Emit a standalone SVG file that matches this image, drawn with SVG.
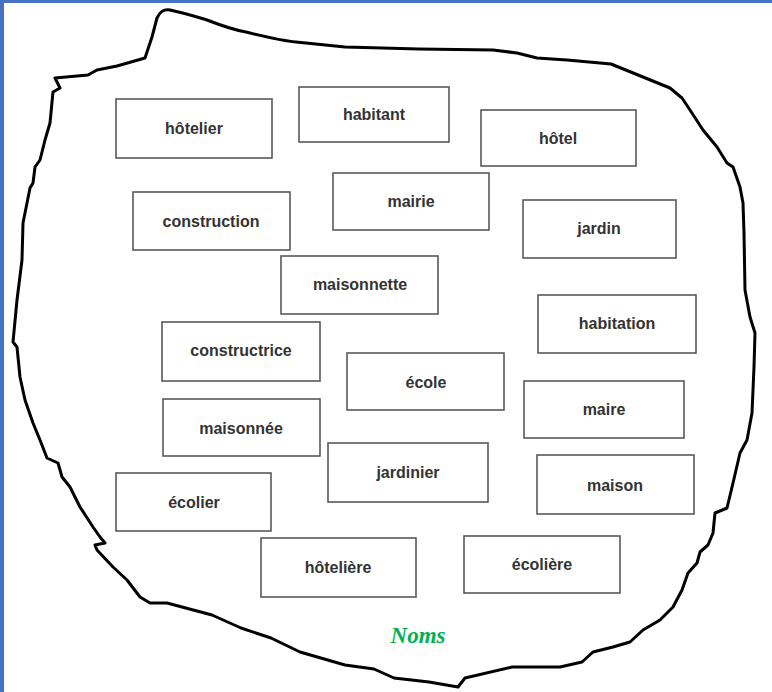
<svg xmlns="http://www.w3.org/2000/svg" width="772" height="692" viewBox="0 0 772 692">
<style>
.b rect{fill:#fff;stroke:#595959;stroke-width:1.6}
.b text{font-family:"Liberation Sans",Arial,sans-serif;font-weight:bold;font-size:16px;fill:#333;text-anchor:middle}
.outline{fill:#fff;stroke:#000;stroke-width:3;stroke-linejoin:round;stroke-linecap:round}
</style>
<rect x="0" y="0" width="772" height="692" fill="#fff"/>
<rect x="0" y="0" width="772" height="3" fill="#4472C4"/>
<rect x="0" y="0" width="4" height="692" fill="#4472C4"/>
<g id="outline">
<path class="outline" d="M55,78 L88,75 L97,70 L117,66 L145,58 L152,37 L157,18 C160,12 163,9 170,10 C185,13 200,18 207,20 C225,27 240,31 246,32 C270,38 285,41 296,42 L345,47 L419,49 L493,50 L517,53 L537,58 L567,60 L611,64 L643,77 L670,88 L682,98 L690,110 L703,130 L717,147 L727,163 L733,167 L740,187 L743,203 L744,233 L745,290 L750,317 L755,333 L754,367 L752,413 L747,440 L740,453 L733,483 L727,508 L715,513 L713,533 L708,545 L700,552 L697,563 L688,573 L682,590 L673,607 L660,620 L643,630 L630,642 L613,647 L593,652 L582,662 L560,667 L542,667 L512,667 L465,678 L458,687 L429,682 L394,678 L374,669 L345,665 L300,652 L271,638 L241,628 L212,615 L167,603 L150,603 L140,597 L127,580 L113,567 L97,550 L95,545 L105,543 L100,537 L93,527 L80,507 L70,487 L62,477 L58,463 L47,458 L40,440 L33,423 L25,400 L20,377 L17,347 L13,342 L17,300 L22,260 L23,223 L30,188 L33,183 L35,167 L40,160 L45,140 L50,123 L53,92 L60,88 Z"/>
</g>
<g id="nodes" class="b">
<g id="n-hotelier"><rect x="116" y="99" width="156" height="59"/><text x="194" y="134">hôtelier</text></g>
<g id="n-habitant"><rect x="299" y="87" width="150" height="55"/><text x="374" y="120">habitant</text></g>
<g id="n-hotel"><rect x="481" y="110" width="155" height="56"/><text x="558" y="144">hôtel</text></g>
<g id="n-construction"><rect x="133" y="192" width="157" height="58"/><text x="211" y="227">construction</text></g>
<g id="n-mairie"><rect x="333" y="173" width="156" height="57"/><text x="411" y="207">mairie</text></g>
<g id="n-jardin"><rect x="523" y="200" width="153" height="58"/><text x="599" y="234">jardin</text></g>
<g id="n-maisonnette"><rect x="281" y="256" width="157" height="58"/><text x="360" y="290">maisonnette</text></g>
<g id="n-habitation"><rect x="538" y="295" width="158" height="58"/><text x="617" y="329">habitation</text></g>
<g id="n-constructrice"><rect x="162" y="322" width="158" height="59"/><text x="241" y="356">constructrice</text></g>
<g id="n-ecole"><rect x="347" y="353" width="157" height="57"/><text x="426" y="388">école</text></g>
<g id="n-maire"><rect x="524" y="381" width="160" height="57"/><text x="604" y="415">maire</text></g>
<g id="n-maisonnee"><rect x="163" y="399" width="157" height="57"/><text x="241" y="434">maisonnée</text></g>
<g id="n-jardinier"><rect x="328" y="443" width="160" height="59"/><text x="408" y="478">jardinier</text></g>
<g id="n-maison"><rect x="537" y="455" width="157" height="59"/><text x="615" y="491">maison</text></g>
<g id="n-ecolier"><rect x="116" y="473" width="155" height="58"/><text x="194" y="508">écolier</text></g>
<g id="n-hoteliere"><rect x="261" y="538" width="155" height="59"/><text x="338" y="573">hôtelière</text></g>
<g id="n-ecoliere"><rect x="464" y="536" width="156" height="57"/><text x="542" y="570">écolière</text></g>
</g>
<g id="connectors"></g>
<text x="418" y="643" font-family="'Liberation Serif','Times New Roman',serif" font-style="italic" font-weight="bold" font-size="23" fill="#00B050" text-anchor="middle">Noms</text>
</svg>
